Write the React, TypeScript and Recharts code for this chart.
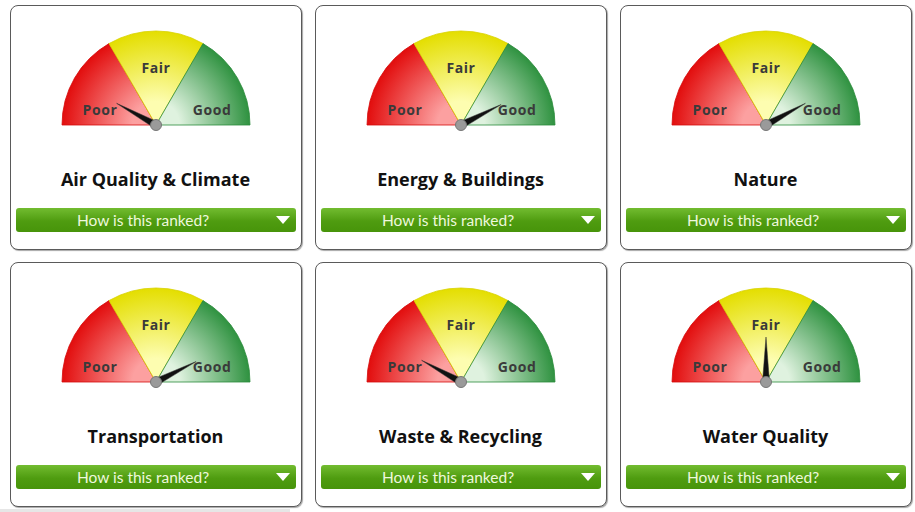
import { PieChart, Pie, Cell } from 'recharts';

// Gauge cards
const categories = ['Air Quality & Climate', 'Energy & Buildings', 'Nature', 'Transportation', 'Waste & Recycling', 'Water Quality'];
const scores = [16, 85, 84, 85, 16, 50];
const bandNames = ['Poor', 'Fair', 'Good'];
const bandSizes = [1, 1, 1];

const BAND_COLORS = [
  { inner: '#fca0a0', outer: '#e20d0d', edge: '#d40a0a' },
  { inner: '#fdfdb0', outer: '#e4de00', edge: '#d8d200' },
  { inner: '#dff2df', outer: '#2f9240', edge: '#2a8a3a' },
];

const CARD_W = 292;
const CARD_H = 245;
const COLS = [10, 315, 620];
const ROWS = [5, 262];
const CX = 145;
const CY = 119;
const RADIUS = 94;
const RAD = Math.PI / 180;

const renderBandLabel = (props: any) => {
  const { cx, cy, midAngle, index } = props;
  // labels sit a bit lower than the sector middle on the side bands
  const angle = midAngle > 95 ? midAngle + 15 : midAngle < 85 ? midAngle - 15 : midAngle;
  const r = 58;
  const x = cx + r * Math.cos(angle * RAD);
  const y = cy - r * Math.sin(angle * RAD);
  return (
    <text
      x={x}
      y={y}
      textAnchor="middle"
      dominantBaseline="central"
      fill="#3a3a3a"
      fontFamily="'Open Sans', sans-serif"
      fontWeight={700}
      fontSize={14}
      letterSpacing={0.6}
    >
      {bandNames[index]}
    </text>
  );
};

const Needle = (props: any) => {
  const { cx, cy, endAngle, outerRadius } = props;
  const isNeedle = props.needle ?? props.payload?.needle;
  if (!isNeedle) return <g />;
  const a = endAngle * RAD;
  const tipX = cx + outerRadius * Math.cos(a);
  const tipY = cy - outerRadius * Math.sin(a);
  const px = Math.sin(a) * 3.5;
  const py = Math.cos(a) * 3.5;
  return (
    <g>
      <polygon
        points={`${cx + px},${cy + py} ${tipX},${tipY} ${cx - px},${cy - py}`}
        fill="#111"
        stroke="#333"
        strokeWidth={0.5}
      />
      <circle cx={cx} cy={cy} r={5.5} fill="#9a9a9a" stroke="#777" strokeWidth={1} />
    </g>
  );
};

const GaugeCard = ({ title, score, idx }: { title: string; score: number; idx: number }) => {
  const bands = bandNames.map((name, i) => ({ name, value: bandSizes[i] }));
  const needleData = [{ value: score, needle: true }, { value: 100 - score, needle: false }];
  const left = COLS[idx % 3];
  const top = ROWS[Math.floor(idx / 3)];
  return (
    <div
      style={{
        position: 'absolute',
        left,
        top,
        width: CARD_W,
        height: CARD_H,
        boxSizing: 'border-box',
        border: '1.5px solid #5a5a5a',
        borderRadius: 8,
        background: '#fff',
        boxShadow: '1px 1px 1px rgba(0,0,0,0.35)',
      }}
    >
      <div style={{ position: 'absolute', left: 0, top: 0 }}>
        <PieChart width={CARD_W - 3} height={140} margin={{ top: 0, right: 0, bottom: 0, left: 0 }}>
          <defs>
            {BAND_COLORS.map((c, i) => (
              <radialGradient key={i} id={`band${idx}-${i}`} cx={CX} cy={CY} r={RADIUS} gradientUnits="userSpaceOnUse">
                <stop offset="0%" stopColor={c.inner} />
                <stop offset="25%" stopColor={c.inner} />
                <stop offset="100%" stopColor={c.outer} />
              </radialGradient>
            ))}
          </defs>
          <Pie
            data={bands}
            dataKey="value"
            cx={CX}
            cy={CY}
            startAngle={180}
            endAngle={0}
            innerRadius={0}
            outerRadius={RADIUS}
            label={renderBandLabel}
            labelLine={false}
            isAnimationActive={false}
          >
            {bands.map((b, i) => (
              <Cell key={b.name} fill={`url(#band${idx}-${i})`} stroke={BAND_COLORS[i].edge} strokeWidth={0.8} />
            ))}
          </Pie>
          <Pie
            data={needleData}
            dataKey="value"
            cx={CX}
            cy={CY}
            startAngle={180}
            endAngle={0}
            innerRadius={0}
            outerRadius={45}
            fill="none"
            stroke="none"
            shape={Needle}
            isAnimationActive={false}
          />
        </PieChart>
      </div>
      <div
        style={{
          position: 'absolute',
          left: 0,
          width: CARD_W - 3,
          top: 161,
          textAlign: 'center',
          fontFamily: "'Open Sans', sans-serif",
          fontWeight: 700,
          fontSize: 18,
          color: '#111',
        }}
      >
        {title}
      </div>
      <div
        style={{
          position: 'absolute',
          left: 5,
          top: 202,
          width: 280,
          height: 24,
          borderRadius: 3,
          background: 'linear-gradient(#72bc30, #4f9c10 55%, #47940a)',
          color: '#eef8dc',
          fontFamily: 'Lato, sans-serif',
          fontSize: 15.5,
          lineHeight: '24px',
        }}
      >
        <span style={{ position: 'absolute', left: 0, width: 254, textAlign: 'center' }}>How is this ranked?</span>
        <svg style={{ position: 'absolute', right: 6, top: 8 }} width={14} height={9}>
          <polygon points="0,0 14,0 7,8" fill="#fff" />
        </svg>
      </div>
    </div>
  );
}

export default function App() {
  return (
    <div style={{ position: 'fixed', left: 0, top: 0, width: 915, height: 512, background: '#fff', overflow: 'hidden' }}>
      {categories.map((c, i) => (
        <GaugeCard key={c} title={c} score={scores[i]} idx={i} />
      ))}
      <div style={{ position: 'absolute', left: 0, top: 509, width: 290, height: 3, background: '#e6e6e6' }} />
    </div>
  );
}
